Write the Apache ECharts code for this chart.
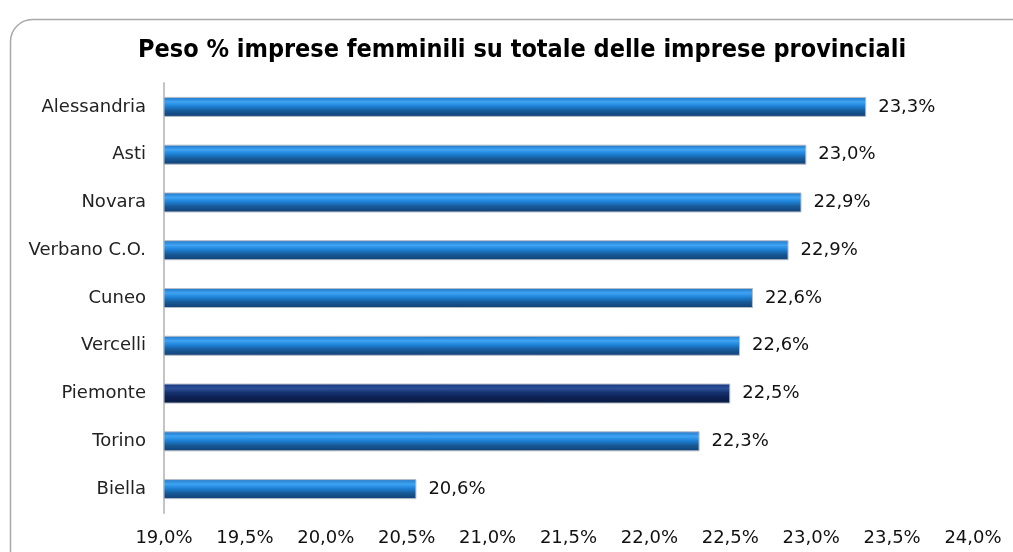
<!DOCTYPE html>
<html>
<head>
<meta charset="utf-8">
<script src="https://cdn.jsdelivr.net/npm/echarts@6/dist/echarts.min.js"></script>
<style>
  html, body { margin: 0; padding: 0; background: #fff; }
  #main { width: 1013px; height: 552px; }
</style>
</head>
<body>
<div id="main"></div>
<script>
// dati
var province = ['Alessandria', 'Asti', 'Novara', 'Verbano C.O.', 'Cuneo', 'Vercelli', 'Piemonte', 'Torino', 'Biella'];
var peso = [23.34, 22.97, 22.94, 22.86, 22.64, 22.56, 22.50, 22.31, 20.56];
var evidenza = 'Piemonte';
var xMin = 19, xMax = 24, xStep = 0.5;

var font = 'DejaVu Sans';

function fmt(v) {
  return v.toFixed(1).replace('.', ',') + '%';
}

// sfumature "3D" delle barre
var blu = new echarts.graphic.LinearGradient(0, 0, 0, 1, [
  { offset: 0, color: '#1e72c4' },
  { offset: 0.25, color: '#3fa4f3' },
  { offset: 0.45, color: '#1f84da' },
  { offset: 0.7, color: '#175a98' },
  { offset: 1, color: '#123f72' }
]);
var navy = new echarts.graphic.LinearGradient(0, 0, 0, 1, [
  { offset: 0, color: '#173680' },
  { offset: 0.25, color: '#2d4f98' },
  { offset: 0.45, color: '#15326f' },
  { offset: 0.7, color: '#0d2152' },
  { offset: 1, color: '#0a1940' }
]);

var chart = echarts.init(document.getElementById('main'));

var option = {
  backgroundColor: '#fff',
  animation: false,
  title: {
    text: 'Peso % imprese femminili su totale delle imprese provinciali',
    left: 133,
    top: 33,
    textStyle: { fontFamily: 'DejaVu Sans Condensed', fontSize: 25, fontWeight: 'bold', color: '#000' }
  },
  graphic: [{
    type: 'rect',
    left: 8, top: 17,
    shape: { width: 1040, height: 580, r: 22 },
    style: { fill: 'none', stroke: '#a8a8a8', lineWidth: 1.5 },
    z: -1
  }],
  grid: { left: 164, right: 40, top: 83, bottom: 39 },
  xAxis: {
    type: 'value',
    min: xMin, max: xMax, interval: xStep,
    axisLine: { show: false },
    axisTick: { show: false },
    splitLine: { show: false },
    axisLabel: {
      margin: 16,
      formatter: fmt,
      fontFamily: font, fontSize: 18, color: '#111'
    }
  },
  yAxis: {
    type: 'category',
    data: province,
    inverse: true,
    axisLine: { lineStyle: { color: '#c4c4c4', width: 2 } },
    axisTick: { show: false },
    axisLabel: { margin: 18, fontFamily: font, fontSize: 18, color: '#222' }
  },
  series: [{
    type: 'bar',
    barWidth: 20,
    data: peso.map(function (v, i) {
      return {
        value: v,
        itemStyle: { color: province[i] === evidenza ? navy : blu }
      };
    }),
    itemStyle: { borderColor: '#b4bcc6', borderWidth: 1 },
    label: {
      show: true,
      position: 'right',
      distance: 12,
      formatter: function (p) { return fmt(p.value); },
      fontFamily: font, fontSize: 18, color: '#111'
    }
  }]
};

chart.setOption(option);
</script>
</body>
</html>
